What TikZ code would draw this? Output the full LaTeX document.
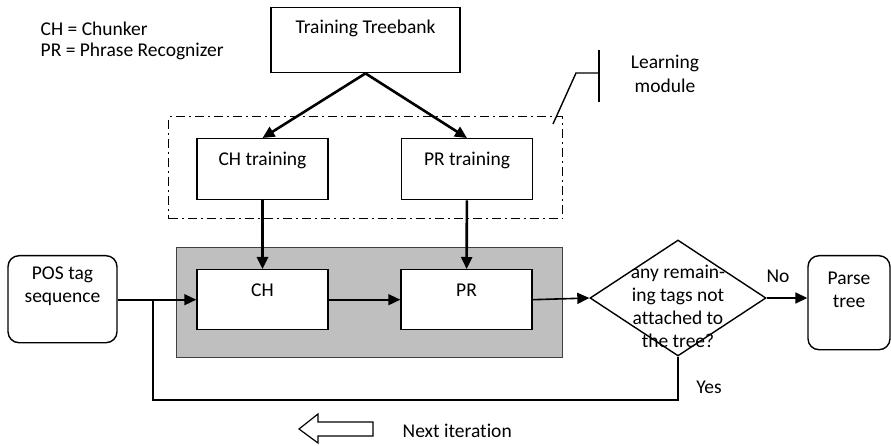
\documentclass[tikz,border=0pt]{standalone}
\usepackage{fontspec}
\setmainfont{Carlito}[Ligatures=NoCommon]
\usetikzlibrary{arrows.meta,shapes.geometric}

\begin{document}
\begin{tikzpicture}[x=1pt,y=-1pt,->,>={Triangle[length=12pt,width=11pt]},
  font=\fontsize{19.5pt}{23pt}\selectfont,line width=1.4pt]
  \tikzstyle{box}=[draw,fill=white,anchor=north,inner xsep=0pt,inner ysep=0pt,align=center]
  \tikzstyle{rbox}=[box,rounded corners=11pt]
  \tikzstyle{flow}=[line width=1.6pt]
  \tikzstyle{train}=[line width=2.6pt]
  \tikzstyle{plain}=[draw=none,inner sep=0pt]
  \useasboundingbox (0,0) rectangle (891,446);
  % legend
  \node[plain,anchor=base west] (leg1) at (40,36) {CH = Chunker};
  \node[plain,anchor=base west] (leg2) at (40,57) {PR = Phrase Recognizer};
  % learning module
  \node[draw,dash pattern=on 9pt off 4pt on 2pt off 4pt,line width=1.2pt,
        minimum width=394pt,minimum height=102pt,anchor=north west] (lm) at (168,116) {};
  \node[box,minimum width=189pt,text height=26pt,text depth=39pt] (tb) at (365.5,7) {Training Treebank};
  \node[box,minimum width=131pt,text height=27pt,text depth=34pt] (cht) at (262.5,138) {CH training};
  \node[box,minimum width=131pt,text height=27pt,text depth=34pt] (prt) at (467,138) {PR training};
  \draw[train] (tb.south) -- (cht.north);
  \draw[train] (tb.south) -- (prt.north);
  % callout
  \coordinate (c1) at (599,50);
  \coordinate (c2) at (599,102);
  \coordinate (c3) at (599,73);
  \coordinate (c4) at (576,73);
  \coordinate (c5) at (553,124);
  \draw[-] (c1) -- (c2);
  \draw[-] (c3) -- (c4) -- (c5);
  \node[plain,anchor=base] (lmtxt1) at (665,69) {Learning};
  \node[plain,anchor=base] (lmtxt2) at (665,93) {module};
  % parser
  \node[draw=black!75,fill=black!25,minimum width=386pt,minimum height=110pt,
        anchor=north west] (core) at (176,247) {};
  \node[box,minimum width=131pt,text height=27pt,text depth=33pt] (ch) at (262.5,269) {CH};
  \node[box,minimum width=131pt,text height=27pt,text depth=33pt] (pr) at (466.5,269) {PR};
  \node[rbox,minimum width=109pt,text height=47pt,text depth=40pt] (pos) at (62.5,255) {POS tag\\sequence};
  \node[draw,diamond,minimum width=176pt,minimum height=116pt,inner sep=0pt] (q) at (678,298) {};
  \node[plain,align=center] (qtxt) at (678,306) {any remain-\\ing tags not\\attached to\\the tree?};
  \node[rbox,minimum width=82pt,text height=52pt,text depth=42pt] (parse) at (849,255) {Parse\\tree};
  \draw[train] (cht) -- (ch);
  \draw[train] (prt) -- (pr);
  \draw[flow] (pos.east |- ch.west) -- (ch.west);
  \draw[flow] (ch) -- (pr);
  \draw[flow] (pr.east) -- (q.west);
  \draw[flow] (q.east) -- (q.east -| parse.west);
  \node[plain,anchor=base] (no) at (778,283) {No};
  \node[plain,anchor=base] (yes) at (709,393) {Yes};
  % loop back
  \coordinate (back) at (153,400);
  \draw[flow,-] (q.south) |- (back) -- (back |- ch.west);
  \draw[-,line width=1.2pt] (373,422) -- (318,422) -- (318,414) -- (299,429)
    -- (318,443) -- (318,436) -- (373,436) -- cycle;
  \node[plain,anchor=base west] (next) at (402,437) {Next iteration};
\end{tikzpicture}
\end{document}
